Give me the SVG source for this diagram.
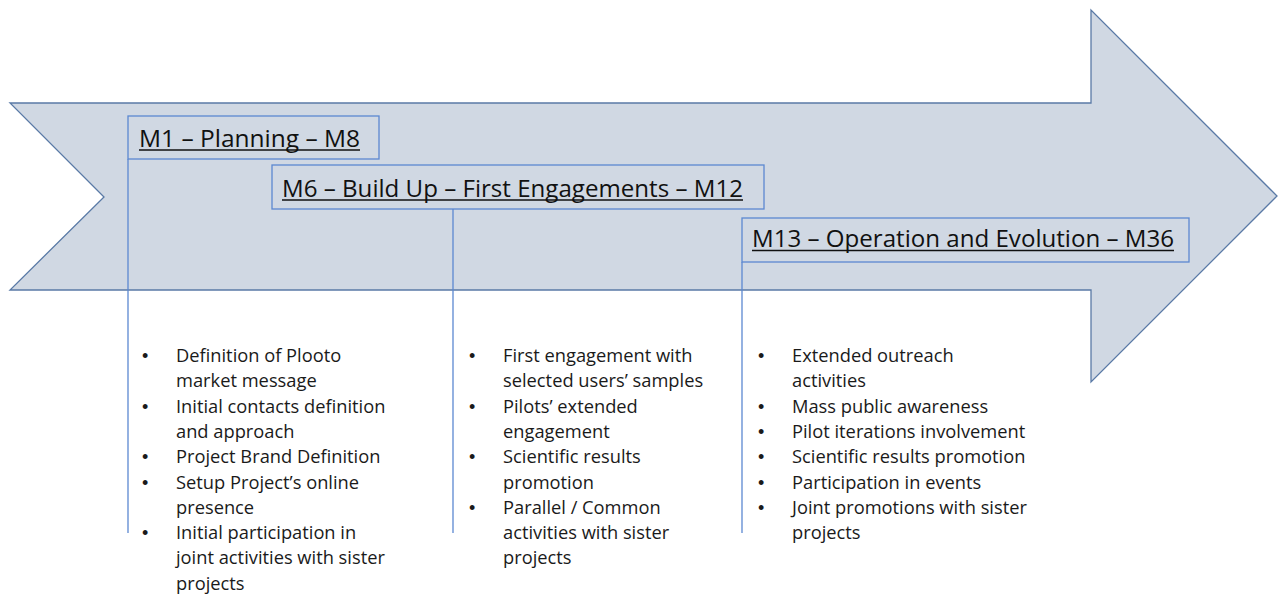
<svg xmlns="http://www.w3.org/2000/svg" width="1278" height="594" viewBox="0 0 1278 594">
<style>
.arrow{fill:#d0d8e3;stroke:#5a7aa6;stroke-width:1.3}
.box{fill:none;stroke:#5b88d1;stroke-width:1.3}
.conn{stroke:#5b88d1;stroke-width:1.3;fill:none}
.hd{font-family:"Open Sans",Lato,sans-serif;font-size:23px;fill:#111}
.ul{stroke:#111;stroke-width:1.6}
.tx{font-family:"Open Sans",Lato,sans-serif;font-size:18.3px;fill:#1a1a1a}
.bl{font-family:"Liberation Sans",sans-serif;font-size:18px;fill:#1a1a1a}
</style>
<rect width="1278" height="594" fill="#fff"/>
<g id="timeline-arrow">
<polygon class="arrow" points="10,103 1091,103 1091,10 1277,196 1091,382 1091,290 10,290 104,197"/>
</g>
<g id="connectors">
<line class="conn" x1="128" y1="159" x2="128" y2="533"/>
<line class="conn" x1="453" y1="209" x2="453" y2="533"/>
<line class="conn" x1="742" y1="262" x2="742" y2="533"/>
</g>
<g id="phase1">
<rect class="box" x="128" y="116" width="251" height="43"/>
<text class="hd" x="139" y="147" textLength="221" lengthAdjust="spacingAndGlyphs">M1 – Planning – M8</text>
<line class="ul" x1="139" y1="150" x2="360" y2="150"/>
</g>
<g id="phase2">
<rect class="box" x="272" y="165" width="492" height="44"/>
<text class="hd" x="282" y="197" textLength="461" lengthAdjust="spacingAndGlyphs">M6 – Build Up – First Engagements – M12</text>
<line class="ul" x1="282" y1="200" x2="743" y2="200"/>
</g>
<g id="phase3">
<rect class="box" x="742" y="218" width="447" height="44"/>
<text class="hd" x="752" y="247" textLength="422" lengthAdjust="spacingAndGlyphs">M13 – Operation and Evolution – M36</text>
<line class="ul" x1="752" y1="250.5" x2="1174" y2="250.5"/>
</g>
<g id="list1" class="tx">
<text class="bl" x="142" y="362">•</text><text x="176" y="362">Definition of Plooto</text>
<text x="176" y="387.3">market message</text>
<text class="bl" x="142" y="412.6">•</text><text x="176" y="412.6">Initial contacts definition</text>
<text x="176" y="437.9">and approach</text>
<text class="bl" x="142" y="463.2">•</text><text x="176" y="463.2">Project Brand Definition</text>
<text class="bl" x="142" y="488.5">•</text><text x="176" y="488.5">Setup Project’s online</text>
<text x="176" y="513.8">presence</text>
<text class="bl" x="142" y="539.1">•</text><text x="176" y="539.1">Initial participation in</text>
<text x="176" y="564.4">joint activities with sister</text>
<text x="176" y="589.7">projects</text>
</g>
<g id="list2" class="tx">
<text class="bl" x="469" y="362">•</text><text x="503" y="362">First engagement with</text>
<text x="503" y="387.3">selected users’ samples</text>
<text class="bl" x="469" y="412.6">•</text><text x="503" y="412.6">Pilots’ extended</text>
<text x="503" y="437.9">engagement</text>
<text class="bl" x="469" y="463.2">•</text><text x="503" y="463.2">Scientific results</text>
<text x="503" y="488.5">promotion</text>
<text class="bl" x="469" y="513.8">•</text><text x="503" y="513.8">Parallel / Common</text>
<text x="503" y="539.1">activities with sister</text>
<text x="503" y="564.4">projects</text>
</g>
<g id="list3" class="tx">
<text class="bl" x="758" y="362">•</text><text x="792" y="362">Extended outreach</text>
<text x="792" y="387.3">activities</text>
<text class="bl" x="758" y="412.6">•</text><text x="792" y="412.6">Mass public awareness</text>
<text class="bl" x="758" y="437.9">•</text><text x="792" y="437.9">Pilot iterations involvement</text>
<text class="bl" x="758" y="463.2">•</text><text x="792" y="463.2">Scientific results promotion</text>
<text class="bl" x="758" y="488.5">•</text><text x="792" y="488.5">Participation in events</text>
<text class="bl" x="758" y="513.8">•</text><text x="792" y="513.8">Joint promotions with sister</text>
<text x="792" y="539.1">projects</text>
</g>
</svg>
